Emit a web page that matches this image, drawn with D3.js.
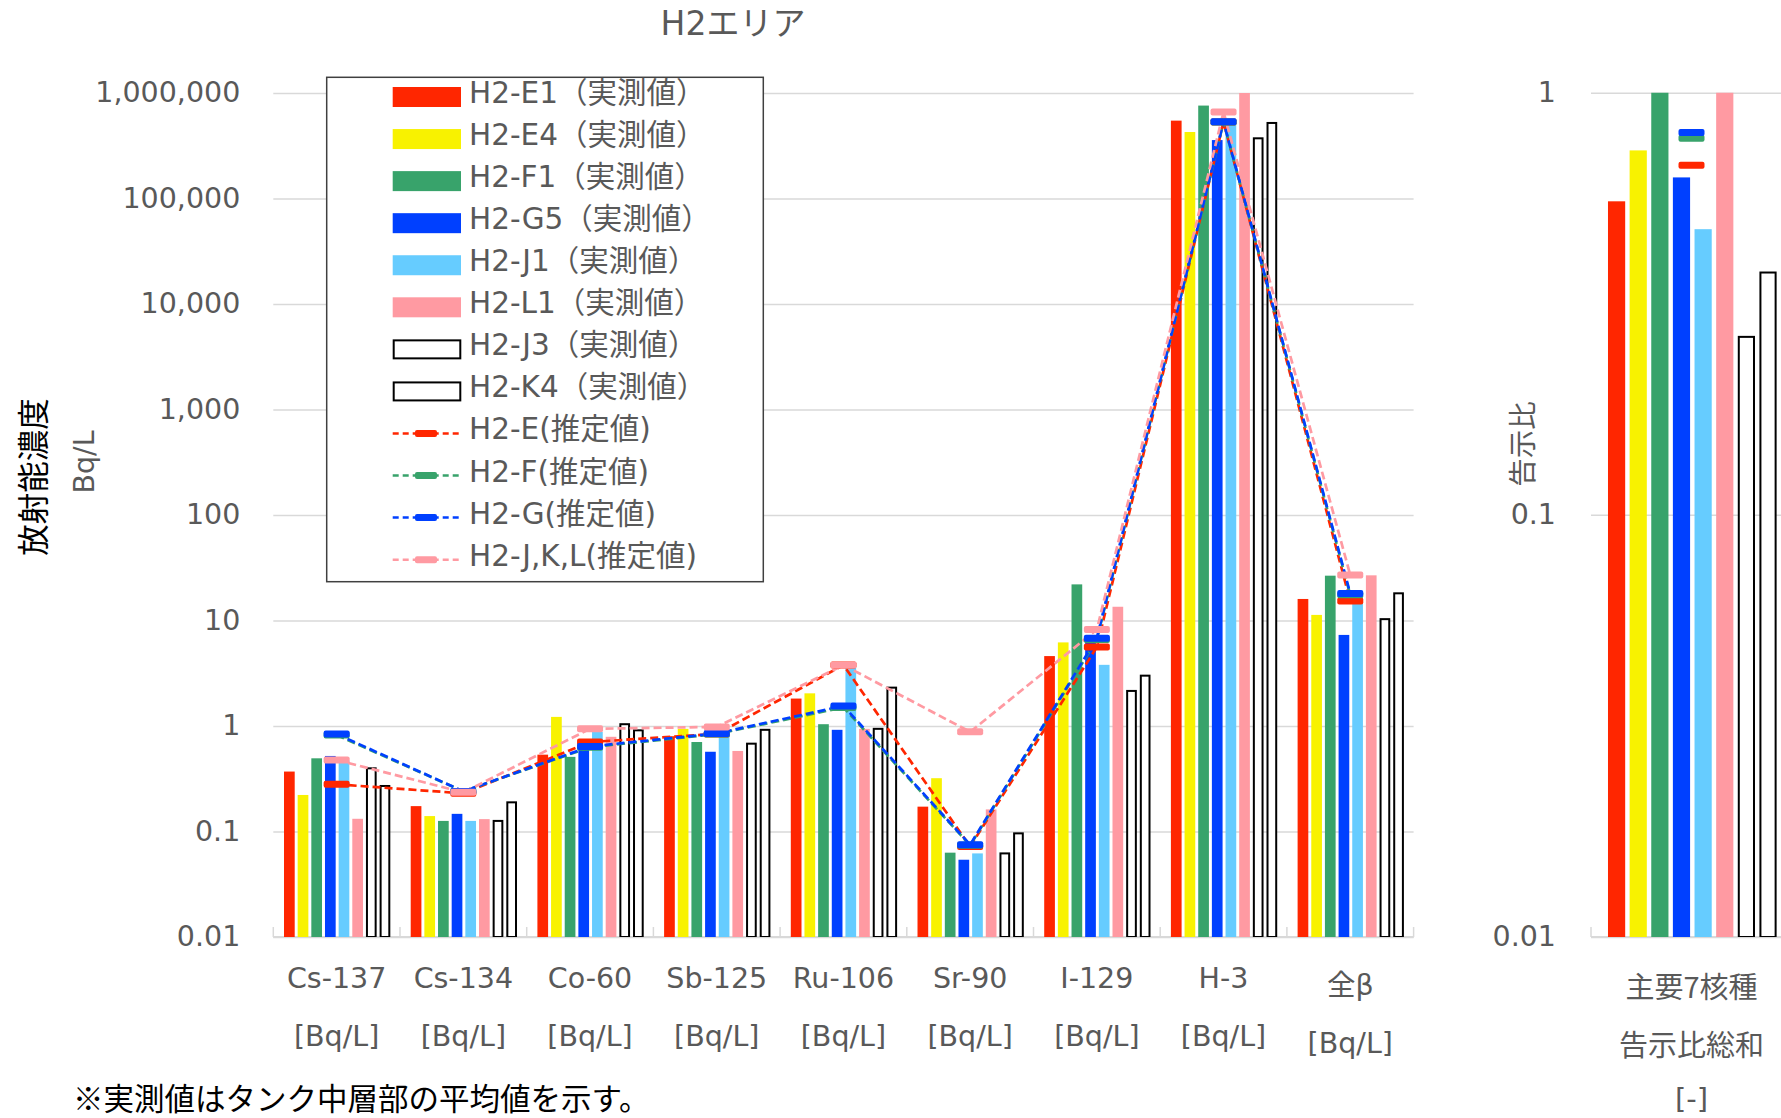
<!DOCTYPE html>
<html><head><meta charset="utf-8">
<script src="https://cdn.jsdelivr.net/npm/d3@7"></script>
<style>html,body{margin:0;padding:0;background:#fff;}</style>
</head><body>
<div id="chart"></div>
<script>
// ---------- DATA ----------
const categories = ["Cs-137","Cs-134","Co-60","Sb-125","Ru-106","Sr-90","I-129","H-3","全β"];
const categoryUnits = ["[Bq/L]","[Bq/L]","[Bq/L]","[Bq/L]","[Bq/L]","[Bq/L]","[Bq/L]","[Bq/L]","[Bq/L]"];
const barSeriesNames = ["H2-E1（実測値）","H2-E4（実測値）","H2-F1（実測値）","H2-G5（実測値）","H2-J1（実測値）","H2-L1（実測値）","H2-J3（実測値）","H2-K4（実測値）"];
const barColors = ["#ff2600","#f8f200","#38a36b","#0040ff","#66ccff","#ff9aa2","#ffffff","#ffffff"];
const H2_E1 = [0.37, 0.174, 0.535, 0.80, 1.82, 0.172, 4.6, 547000, 16];
const H2_E4 = [0.222, 0.140, 1.22, 0.94, 2.04, 0.32, 6.2, 427000, 11.3];
const H2_F1 = [0.494, 0.126, 0.51, 0.705, 1.04, 0.063, 22, 760000, 26.6];
const H2_G5 = [0.52, 0.147, 0.64, 0.57, 0.92, 0.054, 6.8, 358000, 7.3];
const H2_J1 = [0.47, 0.126, 0.88, 0.86, 3.6, 0.062, 3.8, 500000, 17];
const H2_L1 = [0.132, 0.131, 0.79, 0.58, 0.94, 0.162, 13.5, 1100000, 26.8];
const H2_J3 = [0.397, 0.126, 1.04, 0.68, 0.94, 0.062, 2.15, 372000, 10.3];
const H2_K4 = [0.27, 0.189, 0.91, 0.92, 2.31, 0.096, 3.0, 520000, 18.1];
const lineSeriesNames = ["H2-E(推定値)","H2-F(推定値)","H2-G(推定値)","H2-J,K,L(推定値)"];
const lineColors = ["#ff2600","#38a36b","#0040ff","#ff9aa2"];
const H2_E_est = [0.28, 0.23, 0.705, 0.84, 3.78, 0.072, 5.6, 530000, 15.3];
const H2_F_est = [0.82, 0.24, 0.63, 0.84, 1.5, 0.074, 6.6, 530000, 17.5];
const H2_G_est = [0.84, 0.24, 0.64, 0.85, 1.55, 0.075, 6.8, 535000, 18];
const H2_JKL_est = [0.476, 0.235, 0.94, 0.98, 3.78, 0.88, 8.2, 660000, 27];
const yTickValues = [0.01, 0.1, 1, 10, 100, 1000, 10000, 100000, 1000000];
const yTickLabels = ["0.01","0.1","1","10","100","1,000","10,000","100,000","1,000,000"];
// right panel
const ratioCategory = ["主要7核種"];
const ratioCategoryLines = ["主要7核種","告示比総和","[-]"];
const ratioBars = [0.553, 0.73, 1.05, 0.63, 0.475, 1.05, 0.264, 0.375];
const ratioEst = [0.673, 0.78, 0.805, null];
const rTickValues = [0.01, 0.1, 1];
const rTickLabels = ["0.01","0.1","1"];

const barSeries = [H2_E1,H2_E4,H2_F1,H2_G5,H2_J1,H2_L1,H2_J3,H2_K4];
const lineSeries = [H2_E_est,H2_F_est,H2_G_est,H2_JKL_est];

// ---------- LAYOUT ----------
const W = 1781, H = 1118;
const FONT = '"DejaVu Sans","Noto Sans CJK JP",sans-serif';
const JP = '"Noto Sans CJK JP",sans-serif';
const GRAY = "#595959";
const svg = d3.select("#chart").append("svg").attr("width", W).attr("height", H)
  .style("font-family", FONT);

const plotL = 273.3, plotR = 1413.6, plotT = 93, plotB = 937;
const x0 = d3.scaleBand().domain(categories).range([plotL, plotR]).padding(0);
const cw = x0.bandwidth();
const x1 = d3.scaleBand().domain(barSeriesNames).range([cw*0.0845, cw*0.9235]).paddingInner(0.217).paddingOuter(0);
const y = d3.scaleLog().domain([0.01, 1e6]).range([plotB, plotT]);

// title
svg.append("text").attr("x", 733).attr("y", 23).attr("text-anchor","middle")
  .attr("dominant-baseline","central").attr("fill", GRAY).style("font-size","33px").text("H2エリア");

// gridlines + y tick labels
const ya = svg.append("g").attr("transform", `translate(${plotL},0)`)
  .call(d3.axisLeft(y).tickValues(yTickValues).tickFormat((d,i)=>yTickLabels[i])
    .tickSize(-(plotR-plotL)).tickPadding(33));
ya.select(".domain").remove();
ya.selectAll("line").attr("stroke","#d9d9d9").attr("stroke-width",1.5);
ya.selectAll("text").attr("fill",GRAY).style("font-size","28.5px").style("font-family",FONT).attr("dy","0.3em");
// baseline
svg.append("line").attr("x1",plotL).attr("x2",plotR).attr("y1",plotB).attr("y2",plotB)
  .attr("stroke","#d9d9d9").attr("stroke-width",2);
// category boundary ticks
const bounds = categories.map(c=>x0(c)).concat([plotR]);
svg.selectAll(".ctick").data(bounds).enter().append("line")
  .attr("x1",d=>d).attr("x2",d=>d).attr("y1",plotB-10).attr("y2",plotB)
  .attr("stroke","#d9d9d9").attr("stroke-width",1.5);

// clip
svg.append("clipPath").attr("id","clipMain").append("rect")
  .attr("x",plotL).attr("y",plotT).attr("width",plotR-plotL).attr("height",plotB-plotT);
const gMain = svg.append("g").attr("clip-path","url(#clipMain)");

// bars
barSeries.forEach((vals, si) => {
  const outlined = si >= 6;
  gMain.append("g").selectAll("rect").data(vals).enter().append("rect")
    .attr("x",(d,i)=>x0(categories[i]) + x1(barSeriesNames[si]) + (outlined?1:0))
    .attr("width", x1.bandwidth() - (outlined?2:0))
    .attr("y", d=>y(d))
    .attr("height", d=>plotB - y(d))
    .attr("fill", barColors[si])
    .attr("stroke", outlined ? "#000" : "none")
    .attr("stroke-width", outlined ? 2 : 0);
});

// lines
const lineGen = d3.line().x((d,i)=>x0(categories[i]) + cw/2).y(d=>y(d));
lineSeries.forEach((vals, si) => {
  gMain.append("path").datum(vals).attr("d", lineGen).attr("fill","none")
    .attr("stroke", lineColors[si]).attr("stroke-width", 2.7).attr("stroke-dasharray","8 4");
});
lineSeries.forEach((vals, si) => {
  gMain.append("g").selectAll("rect").data(vals).enter().append("rect")
    .attr("x",(d,i)=>x0(categories[i]) + cw/2 - 13).attr("width",26)
    .attr("y",d=>y(d)-3.5).attr("height",7).attr("rx",2)
    .attr("fill", lineColors[si]);
});

// category labels
categories.forEach((c,i)=>{
  const cx = x0(c)+cw/2;
  const off = (c === "全β") ? 7 : 0;
  svg.append("text").attr("x",cx).attr("y",978+off).attr("text-anchor","middle")
    .attr("dominant-baseline","central").attr("fill",GRAY).style("font-size","28.5px").text(c);
  svg.append("text").attr("x",cx).attr("y",1036+off).attr("text-anchor","middle")
    .attr("dominant-baseline","central").attr("fill",GRAY).style("font-size","28.5px").text(categoryUnits[i]);
});

// y titles
svg.append("text").attr("transform","translate(31,477) rotate(-90)").attr("text-anchor","middle")
  .attr("dominant-baseline","central").attr("fill","#000").style("font-family",JP).style("font-size","31.5px").text("放射能濃度");
svg.append("text").attr("transform","translate(84,462) rotate(-90)").attr("text-anchor","middle")
  .attr("dominant-baseline","central").attr("fill",GRAY).style("font-size","28.5px").text("Bq/L");

// note
svg.append("text").attr("x",73).attr("y",1097).attr("dominant-baseline","central")
  .attr("fill","#000").style("font-family",JP).style("font-size","30.5px").text("※実測値はタンク中層部の平均値を示す。");

// legend
const lg = svg.append("g");
lg.append("rect").attr("x",326.7).attr("y",77.3).attr("width",436.6).attr("height",504.4)
  .attr("fill","#fff").attr("stroke","#404040").attr("stroke-width",1.5);
const legendItems = barSeriesNames.map((n,i)=>({name:n, type:"bar", i}))
  .concat(lineSeriesNames.map((n,i)=>({name:n, type:"line", i})));
legendItems.forEach((it, k) => {
  const cy = 97 + k*42.06;
  if (it.type === "bar") {
    const outlined = it.i >= 6;
    lg.append("rect").attr("x", outlined?393.7:392.7).attr("y", cy-10+(outlined?1:0))
      .attr("width", outlined?66.6:68.3).attr("height", outlined?18:20)
      .attr("fill", barColors[it.i]).attr("stroke", outlined?"#000":"none").attr("stroke-width", 2);
  } else {
    lg.append("line").attr("x1",392.7).attr("x2",461).attr("y1",cy).attr("y2",cy)
      .attr("stroke", lineColors[it.i]).attr("stroke-width",2.5).attr("stroke-dasharray","6 4");
    lg.append("rect").attr("x",415).attr("y",cy-3.5).attr("width",22).attr("height",7).attr("rx",2)
      .attr("fill", lineColors[it.i]);
  }
  lg.append("text").attr("x",469).attr("y",cy-4).attr("dominant-baseline","central")
    .attr("fill",GRAY).style("font-size","29.5px").text(it.name);
});

// ---------- RIGHT PANEL ----------
const rL = 1591, rR = 1792, rT = 92.7, rB = 937;
const rx0 = d3.scaleBand().domain(ratioCategory).range([rL, rR]).padding(0);
const rcw = rx0.bandwidth();
const rx1 = d3.scaleBand().domain(barSeriesNames).range([rcw*0.0845, rcw*0.9235]).paddingInner(0.205).paddingOuter(0);
const ry = d3.scaleLog().domain([0.01, 1]).range([rB, rT]);

const ra = svg.append("g").attr("transform", `translate(${rL},0)`)
  .call(d3.axisLeft(ry).tickValues(rTickValues).tickFormat((d,i)=>rTickLabels[i])
    .tickSize(-(rR-rL)).tickPadding(35));
ra.select(".domain").remove();
ra.selectAll("line").attr("stroke","#d9d9d9").attr("stroke-width",1.5);
ra.selectAll("text").attr("fill",GRAY).style("font-size","28.5px").style("font-family",FONT).attr("dy","0.3em");
svg.append("line").attr("x1",rL).attr("x2",rR).attr("y1",rB).attr("y2",rB)
  .attr("stroke","#d9d9d9").attr("stroke-width",2);
svg.append("line").attr("x1",rL).attr("x2",rL).attr("y1",rB-10).attr("y2",rB)
  .attr("stroke","#d9d9d9").attr("stroke-width",1.5);

svg.append("clipPath").attr("id","clipR").append("rect")
  .attr("x",rL).attr("y",rT).attr("width",rR-rL).attr("height",rB-rT);
const gR = svg.append("g").attr("clip-path","url(#clipR)");
gR.selectAll("rect.rb").data(ratioBars).enter().append("rect")
  .attr("x",(d,i)=>rx0(ratioCategory[0]) + rx1(barSeriesNames[i]) + (i>=6?1:0))
  .attr("width",(d,i)=>rx1.bandwidth() - (i>=6?2:0))
  .attr("y",d=>ry(d)).attr("height",d=>rB-ry(d))
  .attr("fill",(d,i)=>barColors[i])
  .attr("stroke",(d,i)=>i>=6?"#000":"none").attr("stroke-width",2);
ratioEst.forEach((v, si) => {
  if (v == null) return;
  gR.append("rect").attr("x", rx0(ratioCategory[0]) + rcw/2 - 13).attr("width",26)
    .attr("y", ry(v)-3.5).attr("height",7).attr("rx",2).attr("fill", lineColors[si]);
});

svg.append("text").attr("transform","translate(1520,444) rotate(-90)").attr("text-anchor","middle")
  .attr("dominant-baseline","central").attr("fill",GRAY).style("font-family",JP).style("font-size","28.5px").text("告示比");

const rcx = rx0(ratioCategory[0]) + rcw/2;
[985, 1043, 1099].forEach((yy, k) => {
  svg.append("text").attr("x",rcx).attr("y",yy).attr("text-anchor","middle")
    .attr("dominant-baseline","central").attr("fill",GRAY).style("font-size","29px")
    .style("font-family", k===2 ? FONT : JP).text(ratioCategoryLines[k]);
});
</script>
</body></html>
